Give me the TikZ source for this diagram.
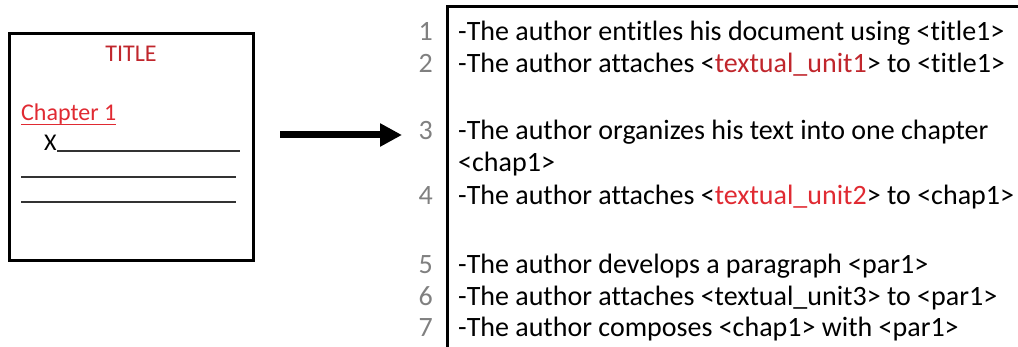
\documentclass[tikz,border=0pt]{standalone}
\usepackage{fontspec}
\setmainfont{Carlito}[Ligatures={NoCommon}]
\usetikzlibrary{arrows.meta,calc}
\definecolor{darkred}{HTML}{C0262C}
\definecolor{brightred}{HTML}{E02A32}
\definecolor{numgray}{HTML}{808080}
\tikzset{
  frame/.style={line width=3pt, draw=black},
  txt/.style={anchor=base west, inner sep=0pt, font=\fontsize{28}{32}\selectfont},
  num/.style={anchor=base east, inner sep=0pt, text=numgray, font=\fontsize{28}{32}\selectfont},
  doc/.style={inner sep=0pt, font=\fontsize{24}{28}\selectfont},
  rule/.style={line width=1.2pt, draw=black!80},
}
\begin{document}
\begin{tikzpicture}[x=1pt,y=-1pt]
\useasboundingbox (0,0) rectangle (1018,347);
% left document
\draw[frame] (9,34) rectangle (253,261);
\node[doc, anchor=base, text=darkred] (title) at (131,62) {TITLE};
\node[doc, anchor=base west, text=brightred] (chap) at (21,121) {Chapter 1};
\coordinate (ua) at ($(chap.base west)+(0,4)$);
\coordinate (ub) at ($(chap.base east)+(0,4)$);
\draw[brightred, line width=1pt] (ua) -- (ub);
\node[doc, anchor=base west] (x) at (44,151) {X};
\coordinate (r1a) at (57,151); \coordinate (r1b) at (240,151);
\coordinate (r2a) at (21,177); \coordinate (r2b) at (236,177);
\coordinate (r3a) at (21,202); \coordinate (r3b) at (236,202);
\draw[rule] (r1a) -- (r1b);
\draw[rule] (r2a) -- (r2b);
\draw[rule] (r3a) -- (r3b);
% arrow
\coordinate (aa) at (280,135); \coordinate (ab) at (402,135);
\draw[line width=7pt, -{Triangle[length=22pt,width=22pt]}] (aa) -- (ab);
% right frame
\coordinate (fa) at (1018,7); \coordinate (fb) at (447,7); \coordinate (fc) at (447,347);
\draw[frame] (fa) -- (fb) -- (fc);
% numbers
\node[num] (n1) at (433,41) {1};
\node[num] (n2) at (433,73) {2};
\node[num] (n3) at (433,140) {3};
\node[num] (n4) at (433,205) {4};
\node[num] (n5) at (433,274) {5};
\node[num] (n6) at (433,306) {6};
\node[num] (n7) at (433,337) {7};
% lines
\node[txt] (t1) at (458,41) {-The author entitles his document using <title1>};
\node[txt] (t2) at (458,73) {-The author attaches <\textcolor{darkred}{textual\_unit1}> to <title1>};
\node[txt] (t3) at (458,140) {-The author organizes his text into one chapter};
\node[txt] (t3b) at (458,172) {<chap1>};
\node[txt] (t4) at (458,205) {-The author attaches <\textcolor{brightred}{textual\_unit2}> to <chap1>};
\node[txt] (t5) at (458,274) {-The author develops a paragraph <par1>};
\node[txt] (t6) at (458,306) {-The author attaches <textual\_unit3> to <par1>};
\node[txt] (t7) at (458,337) {-The author composes <chap1> with <par1>};
\end{tikzpicture}
\end{document}
